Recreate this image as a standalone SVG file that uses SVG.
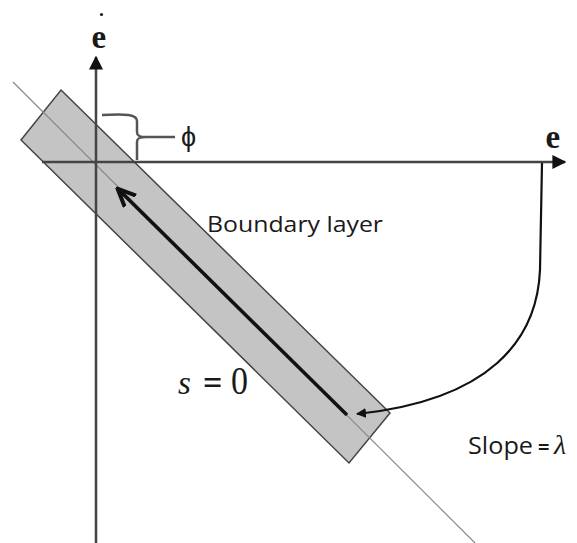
<svg xmlns="http://www.w3.org/2000/svg" width="577" height="543" viewBox="0 0 577 543">
<defs>
<marker id="ah" viewBox="0 0 10 10" refX="9" refY="5" markerWidth="10" markerHeight="10" markerUnits="userSpaceOnUse" orient="auto"><path d="M0,0 L10,5 L0,10 Z" fill="#111"/></marker>
<marker id="ax" viewBox="0 0 10 10" refX="9" refY="5" markerWidth="14" markerHeight="14" markerUnits="userSpaceOnUse" orient="auto"><path d="M0,0 L10,5 L0,10 Z" fill="#111"/></marker>
<marker id="ao" viewBox="0 0 10 10" refX="8" refY="5" markerWidth="20" markerHeight="20" markerUnits="userSpaceOnUse" orient="auto"><path d="M0,1 L9,5 L0,9" fill="none" stroke="#111" stroke-width="2"/></marker>
</defs>
<style>
.axis{stroke:#444;stroke-width:2.5;fill:none}
.lbl{font-family:"Liberation Serif","DejaVu Serif",serif;fill:#1a1a1a}
.sans{font-family:"Open Sans","Liberation Sans",sans-serif;fill:#1a1a1a}
</style>
<rect width="577" height="543" fill="#fff"/>
<g id="band">
<polygon points="61,90 390,413 349,463 21,140" fill="#c4c4c4" stroke="#444" stroke-width="1.5"/>
</g>
<g id="connectors">
<line x1="13" y1="82" x2="475" y2="543" stroke="#888" stroke-width="1.2"/>
<line class="axis" x1="96" y1="543" x2="96" y2="57" marker-end="url(#ax)"/>
<line class="axis" x1="42" y1="162" x2="565" y2="162" marker-end="url(#ax)"/>
<line x1="347" y1="415" x2="119" y2="190" stroke="#111" stroke-width="3.5" marker-end="url(#ao)"/>
<path d="M542,163 L540,270 C537,340 490,400 357,414" fill="none" stroke="#111" stroke-width="2.2" marker-end="url(#ah)"/>
<path d="M102,115 C126,114 137,114 137,121 L137,132 C137,136 140,137 146,137 L175,137 M146,137 C140,137 137,138 137,142 L137,160" fill="none" stroke="#555" stroke-width="2.5"/>
</g>
<g id="edot">
<text class="lbl" x="91.5" y="48" font-size="33" font-weight="bold">e</text>
<circle cx="101.5" cy="14.5" r="1.6" fill="#1a1a1a"/>
</g>
<g id="e">
<text class="lbl" x="545.5" y="148" font-size="33" font-weight="bold">e</text>
</g>
<g id="phi">
<text class="sans" x="181" y="146" font-size="27">ϕ</text>
</g>
<g id="boundary">
<text class="sans" x="207" y="232" font-size="22" textLength="176" lengthAdjust="spacingAndGlyphs">Boundary layer</text>
</g>
<g id="s0">
<text class="lbl" x="178" y="394" font-size="33" font-style="italic">s</text>
<text class="lbl" x="203" y="394" font-size="34" font-weight="bold">=</text>
<text class="lbl" x="231" y="394" font-size="40" textLength="17" lengthAdjust="spacingAndGlyphs">0</text>
</g>
<g id="slope">
<text class="sans" x="468" y="454" font-size="23" textLength="65" lengthAdjust="spacingAndGlyphs">Slope</text>
<text class="sans" x="538" y="454" font-size="20" font-weight="bold">=</text>
<text class="lbl" x="554" y="454" font-size="28" font-style="italic">λ</text>
</g>
</svg>
